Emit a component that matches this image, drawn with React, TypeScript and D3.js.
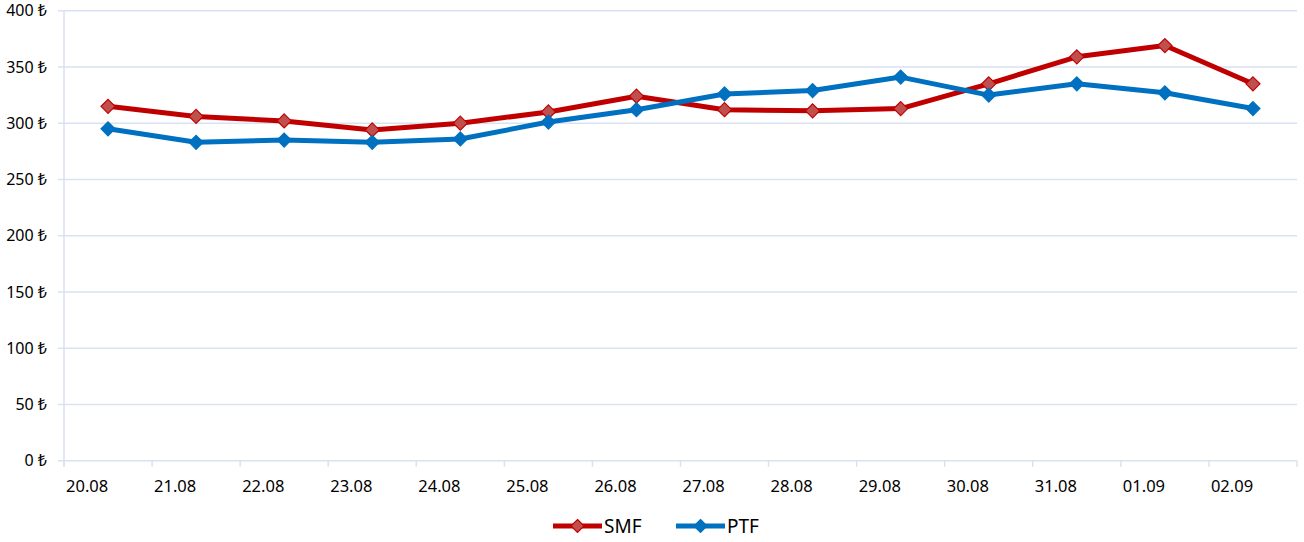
import React from "react";
import * as d3 from "d3";

const categories = ["20.08", "21.08", "22.08", "23.08", "24.08", "25.08", "26.08", "27.08", "28.08", "29.08", "30.08", "31.08", "01.09", "02.09"];
const smf = [315, 306, 302, 294, 300, 310, 324, 312, 311, 313, 335, 359, 369, 335];
const ptf = [295, 283, 285, 283, 286, 301, 312, 326, 329, 341, 325, 335, 327, 313];
const yTicks = [0, 50, 100, 150, 200, 250, 300, 350, 400];

const W = 1304;
const H = 542;
const left = 64;
const right = 1297;
const top = 10.7;
const bottom = 460.7;
const font = "'Noto Sans', 'DejaVu Sans', sans-serif";
const grid = "#D9E1F2";

export default function App() {
  const x = d3.scaleBand<string>().domain(categories).range([left, right]).padding(0);
  const y = d3.scaleLinear().domain([0, 400]).range([bottom, top]);
  const cx = (c: string) => (x(c) as number) + x.bandwidth() / 2;
  const line = d3.line<number>().x((_, i) => cx(categories[i])).y((v) => y(v));
  const diamond = (px: number, py: number, r: number) =>
    `M${px},${py - r}L${px + r},${py}L${px},${py + r}L${px - r},${py}Z`;

  const series = [
    { name: "SMF", data: smf, color: "#C00000", fill: "#C0504D" },
    { name: "PTF", data: ptf, color: "#0070C0", fill: "#0070C0" },
  ];
  const legendY = 526;
  const legend = [
    { s: series[0], x0: 553, text: 604 },
    { s: series[1], x0: 676, text: 727 },
  ];

  return (
    <svg width={W} height={H} style={{ position: "absolute", left: 0, top: 0, background: "#fff" }} fontFamily={font}>
      {yTicks.map((t) => (
        <g key={t}>
          <line x1={58} x2={right} y1={y(t)} y2={y(t)} stroke={grid} strokeWidth={1.5} />
          <text x={47} y={y(t)} dy="0.35em" textAnchor="end" fontSize={16} fill="#000">
            {t} ₺
          </text>
        </g>
      ))}
      <line x1={left} x2={left} y1={top} y2={bottom + 6} stroke={grid} strokeWidth={1.5} />
      {categories.map((c, i) => (
        <g key={c}>
          <line x1={(x(c) as number)} x2={(x(c) as number)} y1={bottom} y2={bottom + 6} stroke={grid} strokeWidth={1.5} />
          {i === categories.length - 1 && (
            <line x1={right} x2={right} y1={bottom} y2={bottom + 6} stroke={grid} strokeWidth={1.5} />
          )}
          <text x={(x(c) as number) + 2} y={486} dy="0.35em" fontSize={16.5} fill="#000">
            {c}
          </text>
        </g>
      ))}
      {series.map((s) => (
        <g key={s.name}>
          <path d={line(s.data) as string} fill="none" stroke={s.color} strokeWidth={5} strokeLinejoin="round" />
          {s.data.map((v, i) => (
            <path key={i} d={diamond(cx(categories[i]), y(v), 7)} fill={s.fill} stroke={s.color} strokeWidth={1.2} />
          ))}
        </g>
      ))}
      {legend.map((l) => (
        <g key={l.s.name}>
          <line x1={l.x0} x2={l.x0 + 49} y1={legendY} y2={legendY} stroke={l.s.color} strokeWidth={5} />
          <path d={diamond(l.x0 + 24.5, legendY, 6.5)} fill={l.s.fill} stroke={l.s.color} strokeWidth={1.2} />
          <text x={l.text} y={legendY} dy="0.35em" fontSize={19} fill="#000">
            {l.s.name}
          </text>
        </g>
      ))}
    </svg>
  );
}
